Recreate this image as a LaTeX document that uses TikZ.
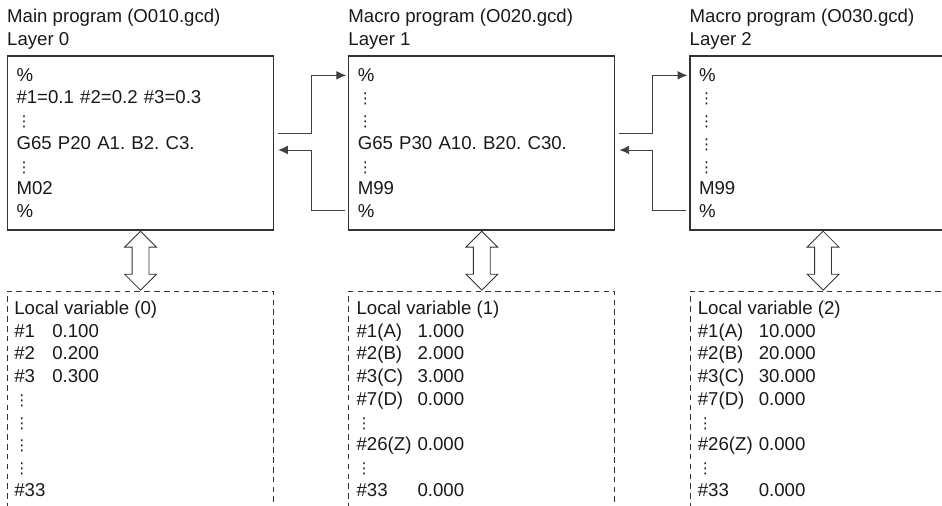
\documentclass[tikz,border=0pt]{standalone}
\usepackage{fontspec}
\setmainfont{Liberation Sans}
\newfontfamily\dotsfont{DejaVu Sans}
\frenchspacing
\usetikzlibrary{shapes,arrows,arrows.meta,positioning,calc}
\tikzstyle{program} = [rectangle, draw=black!80, line width=0.75pt,
    text width=4.96cm, inner xsep=0.18cm, minimum height=3.48cm, align=left]
\tikzstyle{local} = [rectangle, draw=black!80, line width=0.6pt,
    dash pattern=on 3.2pt off 2.4pt, minimum width=5.32cm, minimum height=5cm]
\tikzstyle{title} = [inner sep=0pt, align=left]
\tikzstyle{vars} = [inner sep=0pt, align=left, anchor=north west]
\tikzstyle{updown} = [double arrow, draw=black!80, fill=white, line width=0.5pt,
    rotate=90, inner xsep=0pt, inner ysep=0.16cm, minimum height=1.18cm,
    double arrow head extend=0.15cm]
\tikzstyle{link} = [draw=black!75, line width=0.55pt, -{Latex[length=5.6pt,width=5pt]}]
\newcommand{\vdts}{{\dotsfont\fontsize{8.5pt}{10pt}\selectfont ⋮}}
\newcommand{\varrow}[3][1.22cm]{\makebox[#1][l]{#2}#3}

\begin{document}
\begin{tikzpicture}[x=0.02cm, y=-0.02cm, node distance=1.48cm,
    every node/.append style={font=\fontsize{10.6pt}{12.95pt}\selectfont, text=black!90}]
    \clip (0,0) rectangle (942,506);
    % Place nodes
    \node [program] (prog1) at (140.5,143) {\%\\ \#1=0.1 \#2=0.2 \#3=0.3\\ \vdts\\
        G65 P20 A1. B2. C3.\\ \vdts\\ M02\\ \%};
    \node [program, right=of prog1] (prog2) {\%\\ \vdts\\ \vdts\\
        G65 P30 A10. B20. C30.\\ \vdts\\ M99\\ \%};
    \node [program, right=of prog2] (prog3) {\%\\ \vdts\\ \vdts\\ \vdts\\ \vdts\\ M99\\ \%};
    \node [title, above right=0.12cm and 0cm of prog1.north west] (title1)
        {Main program (O010.gcd)\\Layer 0};
    \node [title, above right=0.12cm and 0cm of prog2.north west] (title2)
        {Macro program (O020.gcd)\\Layer 1};
    \node [title, above right=0.12cm and 0cm of prog3.north west] (title3)
        {Macro program (O030.gcd)\\Layer 2};
    \node [local, below=1.2cm of prog1, anchor=north] (local1) {};
    \node [local, below=1.2cm of prog2, anchor=north] (local2) {};
    \node [local, below=1.2cm of prog3, anchor=north] (local3) {};
    \node [vars] (vars1) at ([shift={(0.14cm,-0.2cm)}]local1.north west)
        {Local variable (0)\\ \varrow[0.76cm]{\#1}{0.100}\\ \varrow[0.76cm]{\#2}{0.200}\\
        \varrow[0.76cm]{\#3}{0.300}\\ \vdts\\ \vdts\\ \vdts\\ \vdts\\ \#33};
    \node [vars] (vars2) at ([shift={(0.16cm,-0.2cm)}]local2.north west)
        {Local variable (1)\\ \varrow{\#1(A)}{1.000}\\ \varrow{\#2(B)}{2.000}\\
        \varrow{\#3(C)}{3.000}\\ \varrow{\#7(D)}{0.000}\\ \vdts\\
        \varrow{\#26(Z)}{0.000}\\ \vdts\\ \varrow{\#33}{0.000}};
    \node [vars] (vars3) at ([shift={(0.16cm,-0.2cm)}]local3.north west)
        {Local variable (2)\\ \varrow{\#1(A)}{10.000}\\ \varrow{\#2(B)}{20.000}\\
        \varrow{\#3(C)}{30.000}\\ \varrow{\#7(D)}{0.000}\\ \vdts\\
        \varrow{\#26(Z)}{0.000}\\ \vdts\\ \varrow{\#33}{0.000}};
    \node [updown] (swap1) at ($(prog1.south)!0.5!(local1.north)$) {};
    \node [updown] (swap2) at ($(prog2.south)!0.5!(local2.north)$) {};
    \node [updown] (swap3) at ($(prog3.south)!0.5!(local3.north)$) {};
    % Draw edges
    \path [link] ([shift={(0.08cm,0.2cm)}]prog1.east) -- ++(0.66cm,0)
        |- ([shift={(-0.04cm,-0.4cm)}]prog2.north west);
    \path [link] ([shift={(-0.06cm,0.4cm)}]prog2.south west) -- ++(-0.68cm,0)
        |- ([shift={(0.08cm,-0.14cm)}]prog1.east);
    \path [link] ([shift={(0.08cm,0.2cm)}]prog2.east) -- ++(0.66cm,0)
        |- ([shift={(-0.04cm,-0.4cm)}]prog3.north west);
    \path [link] ([shift={(-0.06cm,0.4cm)}]prog3.south west) -- ++(-0.68cm,0)
        |- ([shift={(0.08cm,-0.14cm)}]prog2.east);
\end{tikzpicture}
\end{document}
